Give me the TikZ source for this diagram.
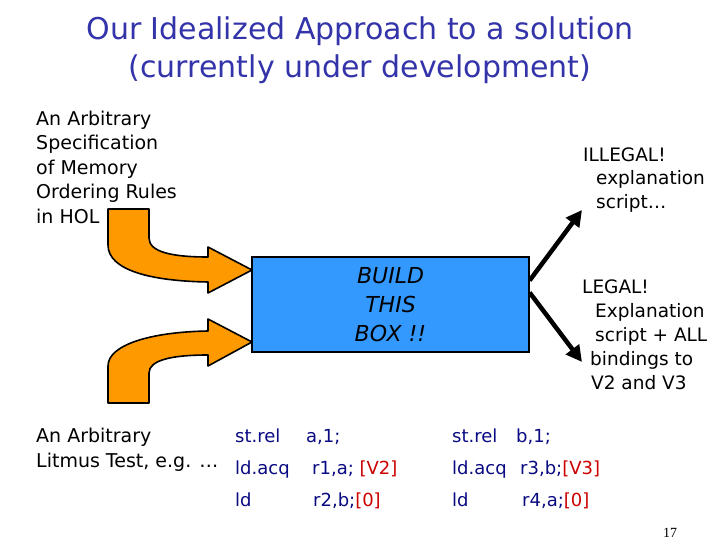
\documentclass[tikz,border=0pt]{standalone}
\usepackage{fontspec}
\setmainfont{DejaVu Sans}
\usetikzlibrary{arrows.meta,positioning,calc}
\definecolor{slate}{RGB}{51,51,170}
\definecolor{codeblue}{RGB}{10,10,130}
\definecolor{crimson}{RGB}{204,0,0}
\definecolor{tangerine}{RGB}{255,153,0}
\definecolor{sky}{RGB}{51,153,255}
\tikzset{
  >={Triangle[length=16pt,width=16pt]},
  txt/.style={font=\fontsize{19}{24.5}\selectfont,align=left,inner sep=0pt,anchor=base west},
  code/.style={txt,font=\fontsize{18}{24}\selectfont,text=codeblue},
  bent/.style={fill=tangerine,draw=black,line width=1.6pt,line join=round},
  flow/.style={->,line width=4.5pt},
}
\begin{document}
\begin{tikzpicture}[x=1pt,y=-1pt]
  \useasboundingbox[fill=white] (0,0) rectangle (720,540);
  % title (base = last line)
  \node[font=\fontsize{30}{38}\selectfont,text=slate,align=center,anchor=base,inner sep=0pt] (title) at (360,78)
    {Our Idealized Approach to a solution\\(currently under development)};
  % inputs
  \node[txt] (spec) at (36,223) {An Arbitrary\\Specification\\of Memory\\Ordering Rules\\in HOL};
  \node[txt] (litmus) at (36,467) {An Arbitrary\\Litmus Test, e.g. \dots};
  \node[draw,line width=1.2pt,fill=sky,minimum width=277pt,minimum height=95pt,
    font=\fontsize{22}{29}\selectfont\itshape,align=center] (box) at (390.5,304.5) {BUILD\\THIS\\BOX !!};
  % bent arrows into the box
  \draw[bent] (108,209) -- (108,245) .. controls (108,270) and (150,281) .. (208,282)
    -- (208,293) -- (252,270) -- (208,247) -- (208,257)
    .. controls (172,257) and (149,252) .. (149,238) -- (149,209) -- cycle;
  \draw[bent] (108,403) -- (108,366) .. controls (108,345) and (150,332) .. (208,331)
    -- (208,319) -- (252,342) -- (208,366) -- (208,355)
    .. controls (172,355) and (149,360) .. (149,373) -- (149,403) -- cycle;
  % outputs
  \node[txt,font=\fontsize{18.5}{23.5}\selectfont] (illegal) at (583,208) {ILLEGAL!\\\hspace*{13pt}explanation\\\hspace*{13pt}script\dots};
  \node[txt,font=\fontsize{18.5}{24}\selectfont] (legal) at (582,389.5) {LEGAL!\\\hspace*{13pt}Explanation\\\hspace*{13pt}script + ALL\\\hspace*{8pt}bindings to\\\hspace*{9pt}V2 and V3};
  \coordinate (up) at ([yshift=24pt]box.east);
  \coordinate (down) at ([yshift=12pt]box.east);
  \coordinate (illegaltip) at (582,210);
  \coordinate (legaltip) at (582,362);
  \draw[flow] (up) -- (illegaltip);
  \draw[flow] (down) -- (legaltip);
  % litmus code
  \node[code] (m1) at (235,442) {st.rel};
  \node[code] (a1) at (306,442) {a,1;};
  \node[code] (m2) at (235,474) {ld.acq};
  \node[code] (a2) at (312,474) {r1,a; \textcolor{crimson}{[V2]}};
  \node[code] (m3) at (235,506) {ld};
  \node[code] (a3) at (313,506) {r2,b;\textcolor{crimson}{[0]}};
  \node[code] (n1) at (452,442) {st.rel};
  \node[code] (b1) at (516,442) {b,1;};
  \node[code] (n2) at (452,474) {ld.acq};
  \node[code] (b2) at (520,474) {r3,b;\textcolor{crimson}{[V3]}};
  \node[code] (n3) at (452,506) {ld};
  \node[code] (b3) at (522,506) {r4,a;\textcolor{crimson}{[0]}};
  \node[font=\fontspec{Liberation Serif}\fontsize{14}{14}\selectfont,anchor=base,inner sep=0pt] (page) at (670,537) {17};
\end{tikzpicture}
\end{document}
